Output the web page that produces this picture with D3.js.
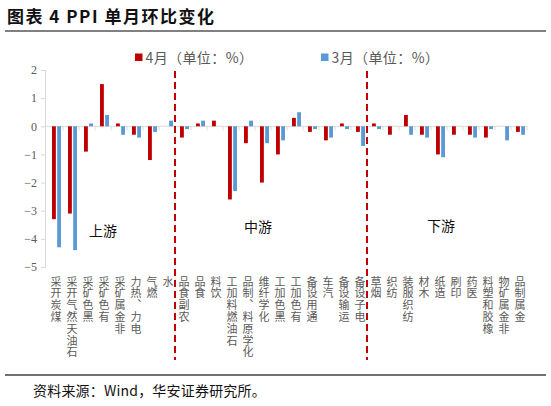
<!DOCTYPE html>
<html><head><meta charset="utf-8">
<script src="https://cdn.jsdelivr.net/npm/d3@7"></script>
<style>
body{margin:0;background:#fff;}
svg{display:block;font-family:"Noto Sans CJK SC","Noto Sans",sans-serif;}
.vlab{writing-mode:vertical-rl;text-orientation:upright;}
</style></head>
<body><svg id="c" width="551" height="406"></svg>
<script>
const categories = ["煤炭开采","石油天然气开采","黑色矿采","有色矿采","非金属矿采","电力、热力","燃气","水",
  "农副食品","食品","饮料","石油燃料加工","化学原料、制品","化学纤维","黑色加工","有色加工","通用设备","汽车","运输设备","电子设备",
  "烟草","纺织","纺织服装","木材","造纸","印刷","医药","橡胶和塑料","非金属矿物","金属制品"];
const seriesNames = ["4月（单位：%）","3月（单位：%）"];
const apr = [-3.3,-3.1,-0.9,1.5,0.1,-0.3,-1.2,0,
  -0.4,0.1,0.2,-2.6,-0.6,-2.0,-1.0,0.3,-0.2,-0.5,0.1,-0.2,
  0.1,-0.3,0.4,-0.3,-1.0,-0.3,-0.3,-0.4,0,-0.2];
const mar = [-4.3,-4.4,0.1,0.4,-0.3,-0.4,-0.2,0.2,
  -0.1,0.2,0,-2.3,0.2,-0.6,-0.5,0.5,-0.1,-0.4,-0.1,-0.7,
  -0.1,0,-0.3,-0.4,-1.1,0,-0.4,-0.1,-0.5,-0.3];
const yTicks = [2,1,0,-1,-2,-3,-4,-5];
const sections = [{name:"上游",start:0,end:8},{name:"中游",start:8,end:20},{name:"下游",start:20,end:30}];
const colors = ["#C00000","#5B9BD5"];

const svg = d3.select("#c");
const x0 = d3.scaleBand().domain(categories).range([47,527]);
const x1 = d3.scaleBand().domain([0,1]).range([5,14]).paddingInner(0.25);
const y = d3.scaleLinear().domain([-5,2]).range([267,70]);

// title
svg.append("text").attr("x",7).attr("y",23).attr("font-size",17).attr("font-weight","bold")
  .attr("letter-spacing",1.5).attr("fill","#111").text("图表 4 PPI 单月环比变化");
svg.append("line").attr("x1",5).attr("x2",546).attr("y1",31).attr("y2",31).attr("stroke","#808080").attr("stroke-width",2);

// y axis
const yAxis = svg.append("g").attr("transform","translate(45,0)")
  .call(d3.axisLeft(y).tickValues(yTicks).tickSize(4).tickFormat(d3.format("d")));
yAxis.select(".domain").attr("stroke","#d9d9d9");
yAxis.selectAll(".tick line").attr("stroke","#d9d9d9");
yAxis.selectAll(".tick text").attr("fill","#595959").attr("font-size",12)
  .attr("font-family","Liberation Serif, serif").attr("x",-8);

// zero line with category ticks
svg.append("line").attr("x1",45).attr("x2",527).attr("y1",y(0)).attr("y2",y(0)).attr("stroke","#d9d9d9").attr("stroke-width",1);
svg.append("g").selectAll("line").data(categories).join("line")
  .attr("x1",d=>x0(d)+x0.bandwidth()).attr("x2",d=>x0(d)+x0.bandwidth())
  .attr("y1",y(0)).attr("y2",y(0)+4).attr("stroke","#d9d9d9");

// bars
const vals = [apr, mar];
vals.forEach((arr,si)=>{
  svg.append("g").selectAll("rect").data(arr).join("rect")
    .attr("x",(d,i)=>x0(categories[i])+x1(si))
    .attr("width",x1.bandwidth())
    .attr("y",d=>y(Math.max(0,d)))
    .attr("height",d=>Math.abs(y(d)-y(0)))
    .attr("fill",colors[si]);
});

// x labels (vertical, upright chars, reading bottom to top)
svg.append("g").selectAll("text").data(categories).join("text")
  .attr("class","vlab")
  .attr("x",d=>x0(d)+x0.bandwidth()/2+1)
  .attr("y",276)
  .attr("fill","#595959").attr("font-size",11).attr("letter-spacing",0.8)
  .text(d=>Array.from(d).reverse().join(""));

// section dividers
sections.slice(1).forEach(s=>{
  const xx = x0(categories[s.start]);
  svg.append("line").attr("x1",xx).attr("x2",xx).attr("y1",71).attr("y2",360)
    .attr("stroke","#C00000").attr("stroke-width",2).attr("stroke-dasharray","7,4");
});
// section labels
const secPos = [{x:103,y:236},{x:258,y:232},{x:441,y:231}];
sections.forEach((s,i)=>{
  svg.append("text").attr("x",secPos[i].x).attr("y",secPos[i].y).attr("text-anchor","middle")
    .attr("font-size",14).attr("fill","#111").text(s.name);
});

// legend
const legX = [135,321];
seriesNames.forEach((n,i)=>{
  svg.append("rect").attr("x",legX[i]).attr("y",53.5).attr("width",7.5).attr("height",7.5).attr("fill",colors[i]);
  svg.append("text").attr("x",legX[i]+10.5).attr("y",62.5).attr("font-size",14).attr("letter-spacing",0.4)
    .attr("fill","#595959").text(n);
});

// source
svg.append("line").attr("x1",5).attr("x2",546).attr("y1",375).attr("y2",375).attr("stroke","#404040").attr("stroke-width",1.5);
svg.append("text").attr("x",33).attr("y",396).attr("font-size",14).attr("letter-spacing",0.2)
  .attr("fill","#111").text("资料来源：Wind，华安证券研究所。");
</script></body></html>
